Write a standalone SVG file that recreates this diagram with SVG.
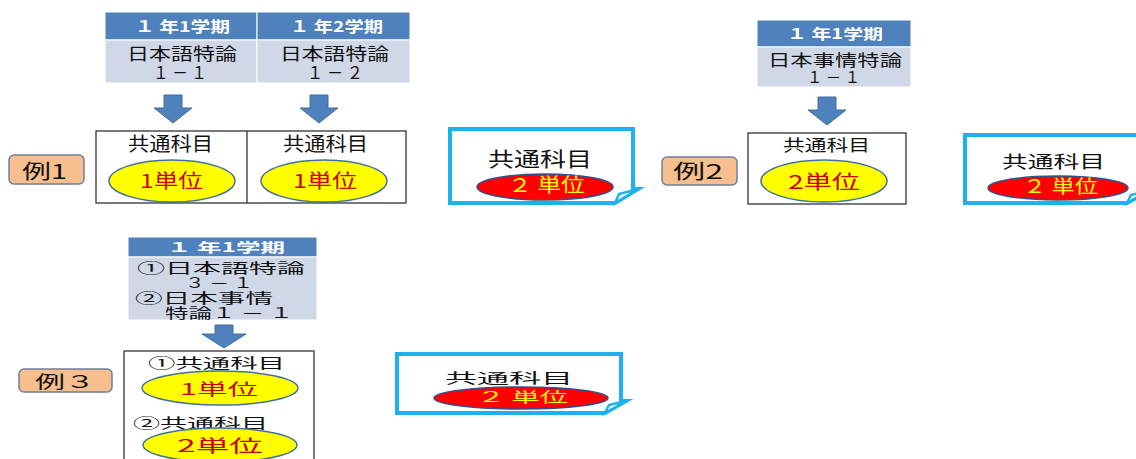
<svg xmlns="http://www.w3.org/2000/svg" width="1136" height="459" viewBox="0 0 1136 459">
<defs>
<style>
text{font-family:"Noto Sans CJK JP","Liberation Sans",sans-serif;}
.hd{fill:#4f81bd;stroke:#ffffff;stroke-width:1;}
.bd{fill:#d0d8e8;stroke:#ffffff;stroke-width:1;}
.ht{fill:#ffffff;font-weight:bold;}
.bt{fill:#111111;}
.box{fill:#ffffff;stroke:#333333;stroke-width:1.3;}
.ye{fill:#ffff00;stroke:#41719c;stroke-width:1.5;}
.yt{fill:#c80000;}
.re{fill:#ff0000;stroke:#2f528f;stroke-width:1.5;}
.rt{fill:#ffff00;}
.ct{fill:#111111;}
.st{fill:#ffffff;stroke:#1fb0ef;stroke-width:4;stroke-linejoin:miter;}
.fl{fill:#ffffff;stroke:#1fb0ef;stroke-width:2.5;}
.lb{fill:#f7bf8e;stroke:#6f7f9f;stroke-width:1.5;}
.lt{fill:#111111;}
.ar{fill:#4f81bd;stroke:#41719c;stroke-width:1;}
</style>
</defs>

<!-- Example 1 -->
<g id="ex1-label">
<rect class="lb" x="9" y="155" width="75" height="29" rx="5"/>
<text class="lt" x="22" y="179" font-size="20" textLength="45" lengthAdjust="spacingAndGlyphs">例1</text>
</g>
<g id="ex1-table">
<rect class="hd" x="105" y="12" width="152" height="28"/>
<rect class="hd" x="257" y="12" width="153" height="28"/>
<rect class="bd" x="105" y="40" width="152" height="43"/>
<rect class="bd" x="257" y="40" width="153" height="43"/>
<text class="ht" x="135" y="32" font-size="15" textLength="95" lengthAdjust="spacingAndGlyphs">１ 年1学期</text>
<text class="ht" x="290" y="32" font-size="15" textLength="93" lengthAdjust="spacingAndGlyphs">１ 年2学期</text>
<text class="bt" font-size="17"><tspan x="127" y="60" textLength="110" lengthAdjust="spacingAndGlyphs">日本語特論</tspan><tspan x="153" y="79" textLength="54" lengthAdjust="spacingAndGlyphs">１ － １</tspan></text>
<text class="bt" font-size="17"><tspan x="280" y="60" textLength="109" lengthAdjust="spacingAndGlyphs">日本語特論</tspan><tspan x="307" y="79" textLength="56" lengthAdjust="spacingAndGlyphs">１ － ２</tspan></text>
</g>
<g id="ex1-box">
<rect class="box" x="96" y="131" width="310" height="72"/>
<line x1="247" y1="131" x2="247" y2="203" stroke="#333333" stroke-width="1.3"/>
<text class="ct" x="128" y="151" font-size="19" textLength="85" lengthAdjust="spacingAndGlyphs">共通科目</text>
<text class="ct" x="283" y="151" font-size="19" textLength="85" lengthAdjust="spacingAndGlyphs">共通科目</text>
<ellipse class="ye" cx="172" cy="181" rx="63" ry="21"/>
<ellipse class="ye" cx="324" cy="181" rx="63" ry="21"/>
<text class="yt" x="140" y="188" font-size="19" textLength="63" lengthAdjust="spacingAndGlyphs">1単位</text>
<text class="yt" x="293" y="188" font-size="19" textLength="64" lengthAdjust="spacingAndGlyphs">1単位</text>
</g>
<g id="ex1-result">
<path class="st" d="M450,129 H633 V189 L638,189 L615,203 H450 Z"/>
<path class="fl" d="M638,189 L619,194 L615,203 Z"/>
<text class="ct" x="488" y="167" font-size="20" textLength="104" lengthAdjust="spacingAndGlyphs">共通科目</text>
<ellipse class="re" cx="545" cy="187" rx="68" ry="13"/>
<text class="rt" x="508" y="192" font-size="19" textLength="77" lengthAdjust="spacingAndGlyphs">２ 単位</text>
</g>

<!-- Example 2 -->
<g id="ex2-label">
<rect class="lb" x="662" y="157" width="75" height="28" rx="5"/>
<text class="lt" x="673" y="179" font-size="20" textLength="50" lengthAdjust="spacingAndGlyphs">例2</text>
</g>
<g id="ex2-table">
<rect class="hd" x="757" y="20" width="154" height="27"/>
<rect class="bd" x="757" y="47" width="154" height="40"/>
<text class="ht" x="787" y="39" font-size="14" textLength="96" lengthAdjust="spacingAndGlyphs">１ 年1学期</text>
<text class="bt" font-size="16"><tspan x="768" y="66" textLength="134" lengthAdjust="spacingAndGlyphs">日本事情特論</tspan><tspan x="807" y="83" textLength="53" lengthAdjust="spacingAndGlyphs">１ － １</tspan></text>
</g>
<g id="ex2-box">
<rect class="box" x="748" y="133" width="158" height="71"/>
<text class="ct" x="783" y="151" font-size="16" textLength="87" lengthAdjust="spacingAndGlyphs">共通科目</text>
<ellipse class="ye" cx="824" cy="181" rx="63" ry="21"/>
<text class="yt" x="788" y="189" font-size="19" textLength="72" lengthAdjust="spacingAndGlyphs">2単位</text>
</g>
<g id="ex2-result">
<path class="st" d="M965,135 H1145 V190 L1150,190 L1127,203 H965 Z"/>
<path class="fl" d="M1150,190 L1131,195 L1127,203 Z"/>
<text class="ct" x="1002" y="168" font-size="17" textLength="103" lengthAdjust="spacingAndGlyphs">共通科目</text>
<ellipse class="re" cx="1058" cy="188" rx="70" ry="12"/>
<text class="rt" x="1023" y="193" font-size="18" textLength="75" lengthAdjust="spacingAndGlyphs">２ 単位</text>
</g>

<!-- Example 3 -->
<g id="ex3-label">
<rect class="lb" x="19" y="369" width="93" height="23" rx="5"/>
<text class="lt" x="35" y="388" font-size="17" textLength="60" lengthAdjust="spacingAndGlyphs">例３</text>
</g>
<g id="ex3-table">
<rect class="hd" x="128" y="237" width="189" height="20"/>
<rect class="bd" x="128" y="257" width="189" height="63"/>
<text class="ht" x="167" y="252" font-size="13" textLength="118" lengthAdjust="spacingAndGlyphs">１ 年1学期</text>
<text class="bt" font-size="14"><tspan x="137" y="273" textLength="168" lengthAdjust="spacingAndGlyphs">①日本語特論</tspan><tspan x="185" y="288" textLength="68" lengthAdjust="spacingAndGlyphs">３ － １</tspan><tspan x="135" y="303" textLength="138" lengthAdjust="spacingAndGlyphs">②日本事情</tspan><tspan x="165" y="318" textLength="128" lengthAdjust="spacingAndGlyphs">特論１ － １</tspan></text>
</g>
<g id="ex3-box">
<rect class="box" x="124" y="351" width="190" height="120"/>
<text class="ct" x="148" y="368" font-size="14" textLength="137" lengthAdjust="spacingAndGlyphs">①共通科目</text>
<ellipse class="ye" cx="220" cy="388" rx="78" ry="17"/>
<text class="yt" x="180" y="395" font-size="16" textLength="78" lengthAdjust="spacingAndGlyphs">1単位</text>
<text class="ct" x="133" y="428" font-size="14" textLength="135" lengthAdjust="spacingAndGlyphs">②共通科目</text>
<ellipse class="ye" cx="220" cy="445" rx="77" ry="17"/>
<text class="yt" x="177" y="452" font-size="17" textLength="86" lengthAdjust="spacingAndGlyphs">2単位</text>
</g>
<g id="ex3-result">
<path class="st" d="M397,354 H621 V401 L626,401 L605,413 H397 Z"/>
<path class="fl" d="M626,401 L609,405 L605,413 Z"/>
<text class="ct" x="445" y="383" font-size="14" textLength="128" lengthAdjust="spacingAndGlyphs">共通科目</text>
<ellipse class="re" cx="521" cy="398" rx="87" ry="11"/>
<text class="rt" x="477" y="402" font-size="14" textLength="91" lengthAdjust="spacingAndGlyphs">２ 単位</text>
</g>

<!-- Connectors -->
<g id="connectors">
<path class="ar" d="M164,95 H182 V108 H192 L173,123 L154,108 H164 Z"/>
<path class="ar" d="M310,95 H328 V108 H338 L319,123 L300,108 H310 Z"/>
<path class="ar" d="M818,97 H836 V110 H846 L827,125 L808,110 H818 Z"/>
<path class="ar" d="M215,325 H233 V334 H246 L224,348 L202,334 H215 Z"/>
</g>
</svg>
